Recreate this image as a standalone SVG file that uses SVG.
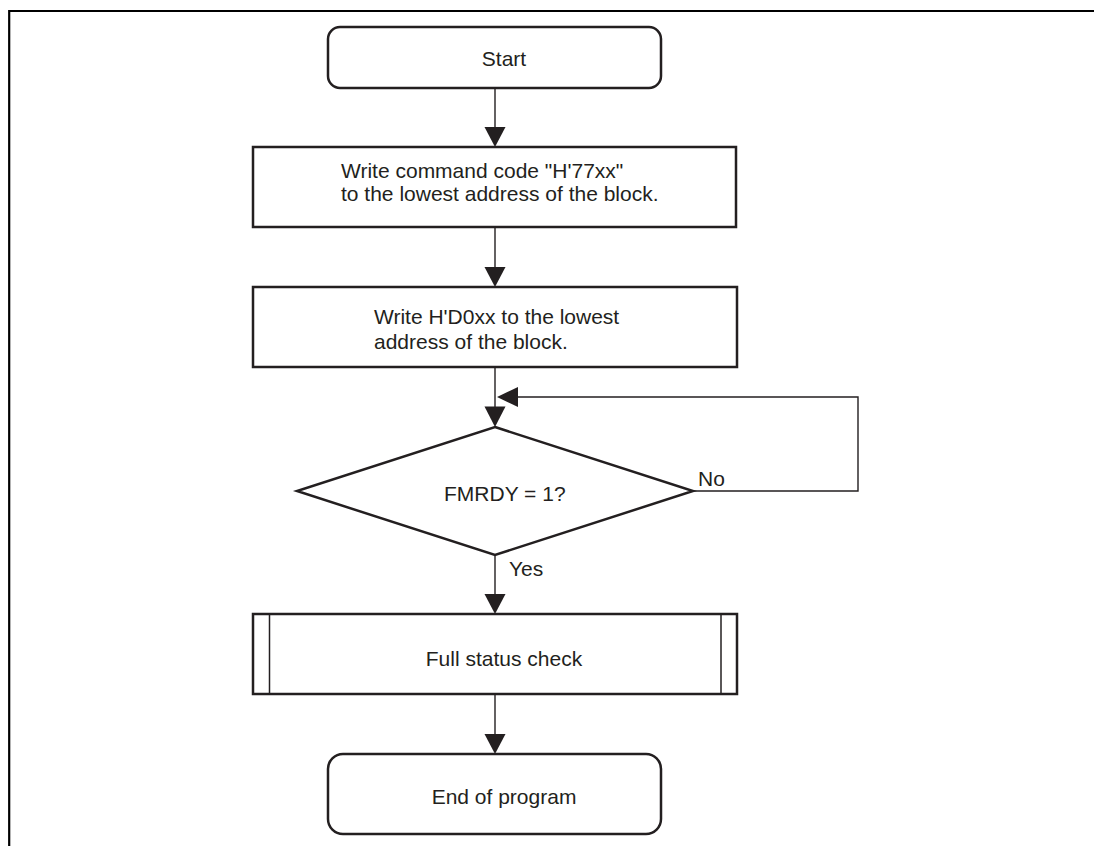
<svg xmlns="http://www.w3.org/2000/svg" width="1094" height="846" viewBox="0 0 1094 846">
<defs>
<style>
.box{fill:#fff;stroke:#231f20;stroke-width:2.5}
.thin{fill:none;stroke:#231f20;stroke-width:1.5}
.conn{fill:none;stroke:#231f20;stroke-width:1.4}
.ah{fill:#231f20;stroke:none}
text{font-family:"Liberation Sans",Arial,sans-serif;font-size:21px;fill:#231f20}
.c{text-anchor:middle}
</style>
</defs>
<rect width="1094" height="846" fill="#fff"/>
<path d="M9.2 846 V11 H1094" fill="none" stroke="#000" stroke-width="2.2"/>
<g id="start">
<rect class="box" x="328" y="27" width="333" height="61" rx="12"/>
<text class="c" x="504" y="66">Start</text>
</g>
<g id="write1">
<rect class="box" x="253" y="147" width="483" height="80"/>
<text x="341" y="178">Write command code "H'77xx"</text>
<text x="341" y="201">to the lowest address of the block.</text>
</g>
<g id="write2">
<rect class="box" x="253" y="287" width="484" height="80"/>
<text x="374" y="324">Write H'D0xx to the lowest</text>
<text x="374" y="349">address of the block.</text>
</g>
<g id="decision">
<polygon class="box" points="495,427 693,491 495,555 297,491"/>
<text x="444" y="501">FMRDY = 1?</text>
</g>
<g id="fullcheck">
<rect class="box" x="253" y="614" width="484" height="80"/>
<line class="thin" x1="269.5" y1="614" x2="269.5" y2="694"/>
<line class="thin" x1="721" y1="614" x2="721" y2="694"/>
<text class="c" x="504" y="666">Full status check</text>
</g>
<g id="end">
<rect class="box" x="328" y="754" width="333" height="80" rx="15"/>
<text class="c" x="504" y="804">End of program</text>
</g>
<g id="connectors">
<line class="conn" x1="495" y1="88" x2="495" y2="128"/>
<polygon class="ah" points="484.5,127 505.5,127 495,147"/>
<line class="conn" x1="495" y1="227" x2="495" y2="268"/>
<polygon class="ah" points="484.5,267 505.5,267 495,287"/>
<line class="conn" x1="495" y1="367" x2="495" y2="408"/>
<polygon class="ah" points="484.5,406.5 505.5,406.5 495,427"/>
<path class="conn" d="M693 491 H858 V397 H516"/>
<polygon class="ah" points="497,397 518,387 518,407"/>
<text x="698" y="486">No</text>
<line class="conn" x1="495" y1="555" x2="495" y2="596"/>
<polygon class="ah" points="484.5,594 505.5,594 495,614"/>
<text x="509" y="576">Yes</text>
<line class="conn" x1="495" y1="694" x2="495" y2="735"/>
<polygon class="ah" points="484.5,734 505.5,734 495,754"/>
</g>
</svg>
